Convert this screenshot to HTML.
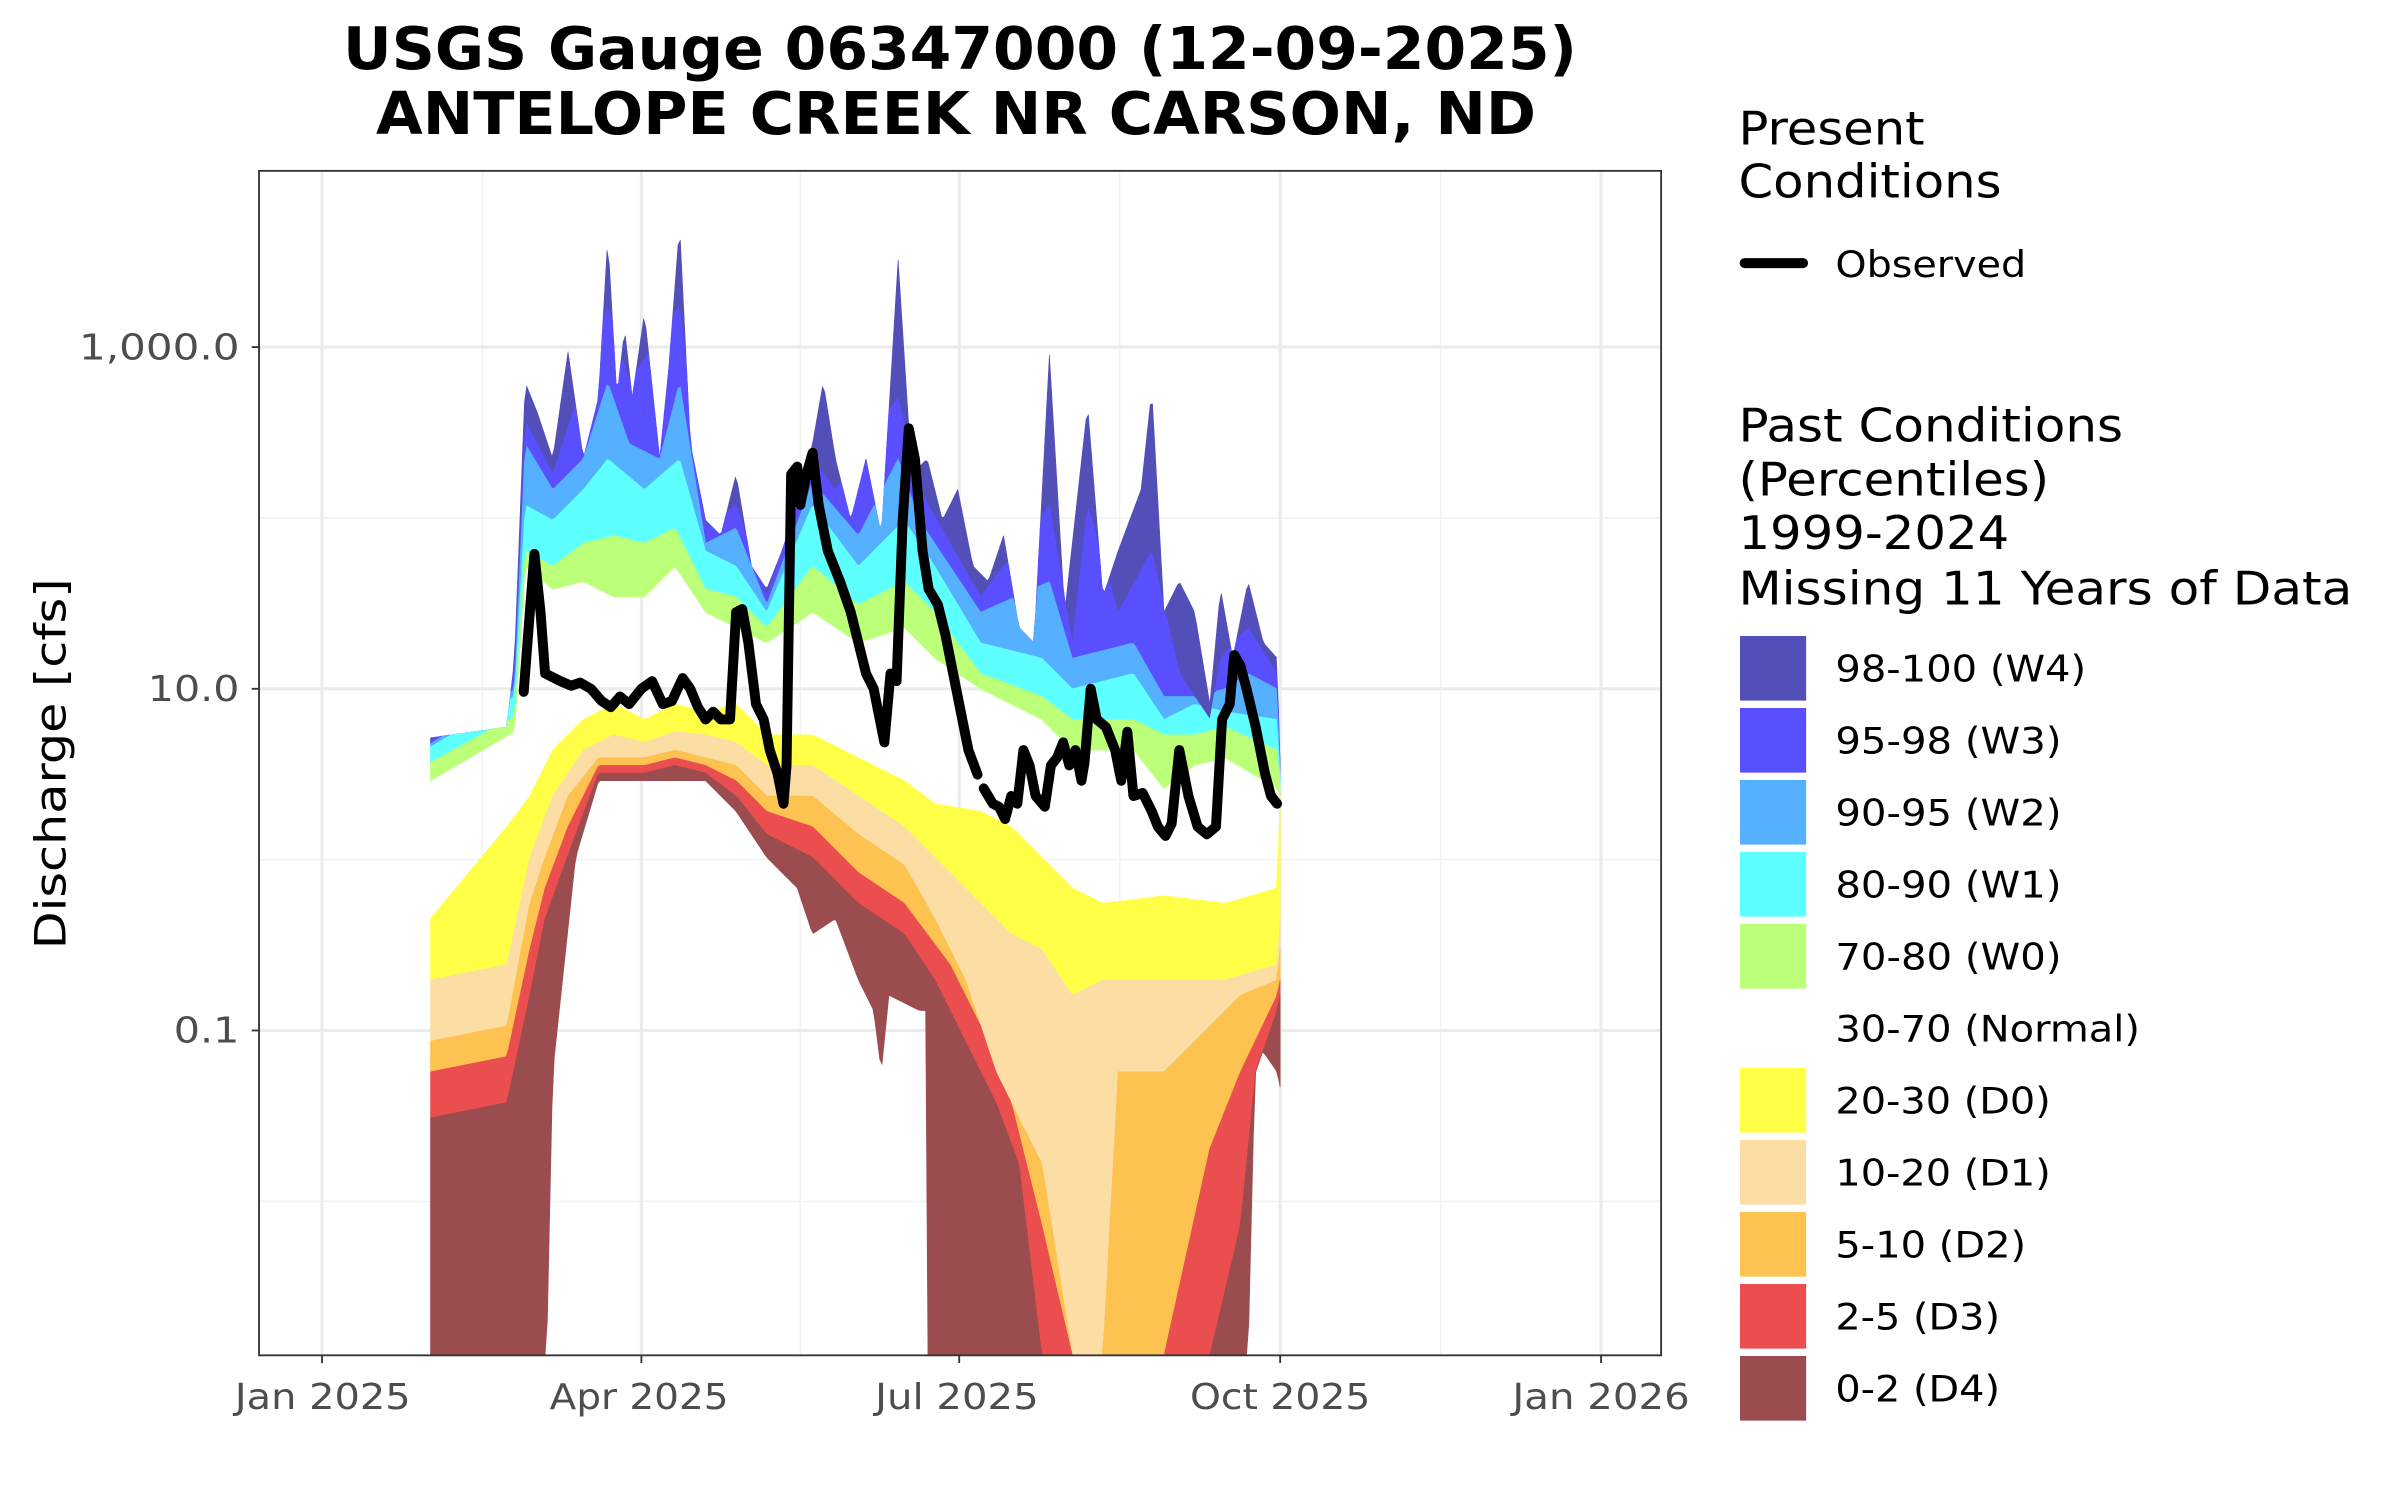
<!DOCTYPE html>
<html><head><meta charset="utf-8"><style>
html,body{margin:0;padding:0;background:#fff;}
svg{display:block;}
text{font-family:"DejaVu Sans","Liberation Sans",sans-serif;}
</style></head><body>
<svg id="s" width="2400" height="1500" viewBox="0 0 1560 975" xmlns="http://www.w3.org/2000/svg">
<rect width="1560" height="975" fill="#fff"/>
<text x="223" y="45" font-size="38" font-weight="bold" textLength="802" lengthAdjust="spacingAndGlyphs">USGS Gauge 06347000 (12-09-2025)</text>
<text x="244.4" y="87" font-size="38" font-weight="bold" textLength="754" lengthAdjust="spacingAndGlyphs">ANTELOPE CREEK NR CARSON, ND</text>
<g transform="matrix(0.9933 0 0 0.996 1.7 -0.49)">
<rect x="167.8" y="112" width="917.5" height="773" fill="#fff"/>
<g stroke="#f2f2f2" stroke-width="1">
<line x1="314" y1="112" x2="314" y2="885"/><line x1="522" y1="112" x2="522" y2="885"/><line x1="731" y1="112" x2="731" y2="885"/><line x1="941" y1="112" x2="941" y2="885"/>
<line x1="168" y1="338.5" x2="1085" y2="338.5"/><line x1="168" y1="561.5" x2="1085" y2="561.5"/><line x1="168" y1="784.5" x2="1085" y2="784.5"/>
</g>
<g stroke="#ebebeb" stroke-width="2">
<line x1="209" y1="112" x2="209" y2="885"/><line x1="418" y1="112" x2="418" y2="885"/><line x1="626" y1="112" x2="626" y2="885"/><line x1="836" y1="112" x2="836" y2="885"/><line x1="1046" y1="112" x2="1046" y2="885"/>
<line x1="168" y1="227" x2="1085" y2="227"/><line x1="168" y1="450" x2="1085" y2="450"/><line x1="168" y1="673" x2="1085" y2="673"/>
</g>
<defs><clipPath id="cp"><rect x="168" y="112" width="917" height="773"/></clipPath></defs>
<g id="bands" clip-path="url(#cp)"></g>
<polyline fill="none" stroke="#000" stroke-width="6.5" stroke-linejoin="round" stroke-linecap="round" points="341,452 345,400 348,362 352,400 355,440 365,445 372,448 378,446 385,450 392,458 398,462 404,455 410,460 418,450 425,445 432,460 438,458 445,443 450,450 455,462 460,470 465,465 470,470 476,470 480,400 484,398 488,420 493,460 498,470 502,490 507,505 511,525 513,500 516,310 520,305 522,330 526,310 530,296 534,330 540,360 548,380 555,400 565,440 570,450 577,485 581,440 585,445 589,340 593,280 597,300 602,360 606,385 612,395 617,415 622,440 627,465 632,490 638,506"/>
<polyline fill="none" stroke="#000" stroke-width="6.5" stroke-linejoin="round" stroke-linecap="round" points="642,515 648,525 652,527 656,535 660,520 664,525 668,490 672,500 676,520 682,527 686,500 690,495 694,485 698,500 702,490 706,510 708,498 712,450 716,470 722,475 728,490 732,510 736,478 740,520 746,518 752,530 756,540 761,546 765,538 770,490 776,520 782,540 788,545 794,540 798,470 803,460 806,428 810,435 814,450 820,475 826,505 830,520 834,525"/>
<rect x="167.8" y="112" width="917.5" height="773" fill="none" stroke="#333" stroke-width="1.2"/>
<g stroke="#333" stroke-width="1.2">
<line x1="163" y1="227" x2="168" y2="227"/><line x1="163" y1="450" x2="168" y2="450"/><line x1="163" y1="673" x2="168" y2="673"/>
<line x1="209" y1="885" x2="209" y2="890"/><line x1="418" y1="885" x2="418" y2="890"/><line x1="626" y1="885" x2="626" y2="890"/><line x1="836" y1="885" x2="836" y2="890"/><line x1="1046" y1="885" x2="1046" y2="890"/>
</g>
<g font-size="23" fill="#4d4d4d">
<text x="50" y="235" textLength="105" lengthAdjust="spacingAndGlyphs">1,000.0</text>
<text x="95" y="458" textLength="60" lengthAdjust="spacingAndGlyphs">10.0</text>
<text x="112" y="681" textLength="43" lengthAdjust="spacingAndGlyphs">0.1</text>
<text x="152" y="920" textLength="115" lengthAdjust="spacingAndGlyphs">Jan 2025</text>
<text x="358" y="920" textLength="117" lengthAdjust="spacingAndGlyphs">Apr 2025</text>
<text x="571" y="920" textLength="107" lengthAdjust="spacingAndGlyphs">Jul 2025</text>
<text x="777" y="920" textLength="118" lengthAdjust="spacingAndGlyphs">Oct 2025</text>
<text x="988" y="920" textLength="116" lengthAdjust="spacingAndGlyphs">Jan 2026</text>
</g>
<text transform="translate(41,620) rotate(-90)" font-size="28" textLength="242" lengthAdjust="spacingAndGlyphs">Discharge [cfs]</text>
</g>
<g font-size="30">
<text x="1130" y="93.8" textLength="121" lengthAdjust="spacingAndGlyphs">Present</text>
<text x="1130" y="128.5" textLength="171" lengthAdjust="spacingAndGlyphs">Conditions</text>
<text x="1130" y="287" textLength="250" lengthAdjust="spacingAndGlyphs">Past Conditions</text>
<text x="1130" y="322" textLength="202" lengthAdjust="spacingAndGlyphs">(Percentiles)</text>
<text x="1130" y="357" textLength="176" lengthAdjust="spacingAndGlyphs">1999-2024</text>
<text x="1130" y="393" textLength="399" lengthAdjust="spacingAndGlyphs">Missing 11 Years of Data</text>
</g>
<line x1="1134" y1="171" x2="1172" y2="171" stroke="#000" stroke-width="6.5" stroke-linecap="round"/>
<text x="1193" y="180" font-size="24" textLength="124" lengthAdjust="spacingAndGlyphs">Observed</text>
<g id="leg"></g>
</svg>
<script>
var cols=["#534fb8","#5a4fff","#55b0ff","#5effff","#bcff78","#ffffff","#ffff48","#fcdea5","#fdc24f","#ea4e4e","#9b4c4e"];
var labs=["98-100 (W4)","95-98 (W3)","90-95 (W2)","80-90 (W1)","70-80 (W0)","30-70 (Normal)","20-30 (D0)","10-20 (D1)","5-10 (D2)","2-5 (D3)","0-2 (D4)"];
var lens=[163,147,147,147,147,198,140,140,124,107,107];
var ns="http://www.w3.org/2000/svg";
var leg=document.getElementById("leg");
for(var i=0;i<11;i++){var y=413.4+i*46.8;
 if(i!=5){var r=document.createElementNS(ns,"rect");r.setAttribute("x",1131);r.setAttribute("y",y);r.setAttribute("width",43);r.setAttribute("height",42);r.setAttribute("fill",cols[i]);leg.appendChild(r);}
 var t=document.createElementNS(ns,"text");t.setAttribute("x",1193);t.setAttribute("y",y+29.6);t.setAttribute("font-size","24");t.setAttribute("textLength",lens[i]);t.setAttribute("lengthAdjust","spacingAndGlyphs");t.textContent=labs[i];leg.appendChild(t);}
function P(s){return s.trim().split(/\s+/).map(function(p){var a=p.split(":");return [+a[0],+a[1]];});}
var B=[
P("280:482 330:475 335:430 342:250 350:270 360:300 370:230 380:300 390:260 396:155 402:260 407:215 412:260 420:205 430:300 436:240 443:147 450:290 460:340 470:350 480:310 490:370 500:385 510:360 520:330 530:290 537:250 545:300 555:340 565:300 575:350 586:170 595:310 605:300 615:340 625:320 635:370 645:380 655:350 665:410 675:420 685:232 695:400 710:265 720:390 730:360 745:320 752:255 760:400 770:380 780:400 790:460 797:385 805:430 815:380 825:420 834:430 836:500"),
P("280:484 335:440 342:275 360:310 396:200 410:250 443:200 460:345 480:330 500:390 530:300 545:320 586:260 600:320 640:390 685:330 700:420 710:330 730:400 752:360 770:440 790:470 797:430 815:410 834:440 836:500"),
P("280:486 335:450 342:290 360:320 380:300 396:250 410:290 430:300 443:250 460:355 480:345 500:395 530:315 560:350 586:300 600:340 640:400 685:380 700:430 740:420 760:455 780:455 800:450 815:440 834:450 836:505"),
P("280:488 335:455 342:330 360:340 380:320 396:300 420:320 443:300 460:360 480:370 500:400 530:330 560:370 590:340 610:370 640:420 680:430 700:450 740:440 760:470 780:460 800:465 834:470 836:510"),
P("280:498 335:468 342:360 360:370 380:355 400:350 420:355 440:345 460:385 480:390 500:410 530:370 560:395 590:380 610:400 640:440 680:455 700:470 740:470 760:480 780:480 800:475 834:490 836:515"),
P("280:510 335:478 342:370 360:385 380:380 400:390 420:390 440:370 460:400 480:410 500:420 530:400 560:420 590:410 610:430 640:450 680:470 700:490 740:490 760:515 780:500 800:495 834:515 836:520"),
P("280:600 330:540 345:520 360:490 380:470 400:460 420:470 440:460 460:465 480:460 500:480 530:480 560:495 590:510 610:525 640:530 660:540 680:560 700:580 720:590 760:585 800:590 834:580 836:520"),
P("280:640 330:630 345:560 360:520 380:490 400:480 420:485 440:478 460:480 480:485 500:500 530:500 560:520 590:540 610:560 640:590 660:610 680:620 700:650 720:640 760:640 800:640 834:630 836:600"),
P("280:680 330:670 345:590 355:560 370:520 390:495 420:495 440:490 460:495 480:500 500:520 530:520 560:545 590:565 610:600 630:640 650:700 680:760 700:885 720:885 730:700 760:700 790:670 810:650 834:640 836:620"),
P("280:700 330:690 345:620 355:580 370:540 390:500 420:500 440:495 460:500 480:510 500:530 530:540 560:570 590:590 620:630 640:670 660:720 680:800 700:885 720:885 760:885 790:750 810:700 834:650 836:640"),
P("280:730 330:720 345:650 355:600 375:545 390:505 420:505 440:500 460:505 480:520 500:545 530:560 560:590 590:610 610:640 630:680 650:720 665:760 680:885 790:885 810:800 820:700 834:660 836:650"),
P("280:885 344:885 356:885 360:700 375:560 390:510 420:510 440:510 460:510 480:530 500:560 520:580 530:610 545:600 560:640 570:660 575:700 580:650 600:660 604:660 605:885 815:885 820:680 834:700 836:710")];
function itp(a,x){if(x<=a[0][0])return a[0][1];for(var i=1;i<a.length;i++){if(x<=a[i][0]){var t=(x-a[i-1][0])/(a[i][0]-a[i-1][0]);return a[i-1][1]+t*(a[i][1]-a[i-1][1]);}}return a[a.length-1][1];}
var xs=[];for(var x=280;x<836;x+=1.5)xs.push(x);xs.push(836);
var V=B.map(function(b){return xs.map(function(x){return itp(b,x);});});
for(var k=0;k<11;k++){for(var j=0;j<xs.length;j++){if(V[k+1][j]<V[k][j])V[k+1][j]=V[k][j];}}
var g=document.getElementById("bands");
for(var k=0;k<11;k++){if(k==5)continue;var pts=[];
 for(var j=0;j<xs.length;j++)pts.push(xs[j].toFixed(1)+","+V[k][j].toFixed(1));
 for(var j=xs.length-1;j>=0;j--)pts.push(xs[j].toFixed(1)+","+V[k+1][j].toFixed(1));
 var p=document.createElementNS(ns,"polygon");p.setAttribute("points",pts.join(" "));p.setAttribute("fill",cols[k]);p.setAttribute("stroke",cols[k]);p.setAttribute("stroke-width","0.4");g.appendChild(p);}
</script>
</body></html>
